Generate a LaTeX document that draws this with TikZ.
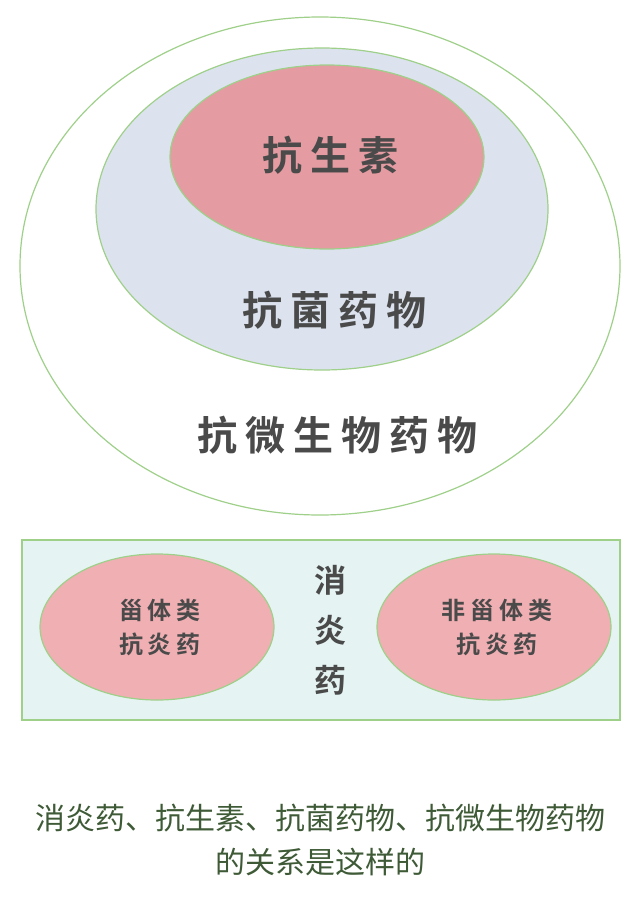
\documentclass[tikz,border=0pt]{standalone}
\usepackage{fontspec}
\newfontfamily\cjk{Noto Sans CJK SC}
\newfontfamily\cjkb[LetterSpace=20]{Noto Sans CJK SC Bold}
\definecolor{lg}{HTML}{9FD08A}
\definecolor{blu}{HTML}{DCE3EF}
\definecolor{pk}{HTML}{E49BA1}
\definecolor{pk2}{HTML}{F0AFB3}
\definecolor{cy}{HTML}{E5F4F3}
\definecolor{tx}{HTML}{4A4A4A}
\definecolor{cap}{HTML}{3E5A36}
\tikzset{ell/.style={draw=lg,line width=1.2pt},
big/.style={font=\cjkb\fontsize{40}{40}\selectfont,text=tx},
small/.style={font=\cjkb\fontsize{24}{34}\selectfont,text=tx,align=center}}
\begin{document}
\begin{tikzpicture}[x=1pt,y=-1pt]
\useasboundingbox (0,0) rectangle (640,902);
\fill[white] (0,0) rectangle (640,902);
\draw[ell,fill=white] (320,266) ellipse [x radius=300,y radius=249];
\draw[ell,fill=blu] (322,209) ellipse [x radius=226,y radius=161];
\draw[ell,fill=pk] (327,157) ellipse [x radius=157,y radius=92];
\node[big] (a) at (330,155) {抗生素};
\node[big] (b) at (334,310) {抗菌药物};
\node[big] (c) at (337,435) {抗微生物药物};
\draw[ell,fill=cy] (22,540) rectangle (620,720);
\draw[ell,fill=pk2] (157,627) ellipse [x radius=117,y radius=73];
\draw[ell,fill=pk2] (494,627) ellipse [x radius=117,y radius=73];
\node[small] (l) at (160,627) {甾体类\\抗炎药};
\node[small] (r) at (497,627) {非甾体类\\抗炎药};
\node[big,font=\cjkb\fontsize{32}{50}\selectfont,align=center] (m) at (330,630) {消\\炎\\药};
\node[font=\cjk\fontsize{30}{44}\selectfont,text=cap,align=center] (t) at (320,840) {消炎药、抗生素、抗菌药物、抗微生物药物\\的关系是这样的};
\end{tikzpicture}
\end{document}
